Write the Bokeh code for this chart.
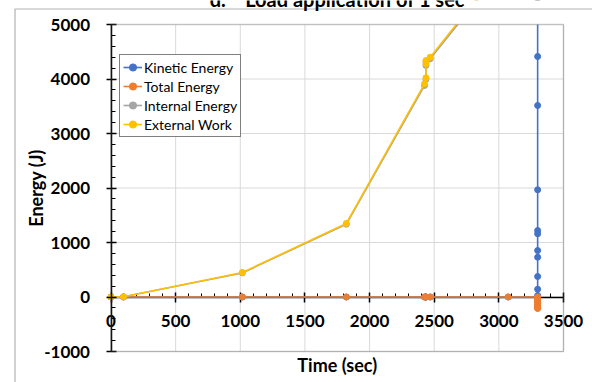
from bokeh.plotting import figure
from bokeh.models import (Label, Legend, LegendItem, SingleIntervalTicker, NumeralTickFormatter,
                          BoxAnnotation, Range1d)
from bokeh.embed import file_html
from bokeh.resources import INLINE

# ---------------- data ----------------
title_text = "d.\u00a0\u00a0\u00a0\u00a0Load application of 1 sec"
x_title = "Time (sec)"
y_title = "Energy (J)"

time_s = [0, 97, 1016, 1820, 2425, 2436, 2436, 2436, 2469, 3072,
          3300, 3300, 3300, 3300, 3300, 3300, 3300, 3300, 3300, 3300, 3300, 3300]
kinetic = [0, 0, 0, 0, 0, 0, 0, 0, 0, 0,
           0, 27, 143, 376, 730, 853, 1160, 1220, 1967, 3514, 4413, 6200]
total = [0, 0, 0, 0, 0, 0, 0, 0, 0, 0,
         0, -20, -45, -70, -95, -120, -140, -160, -180, -195, -205, -210]
internal = [0, 3, 442, 1335, 3880, 3995, 4250, 4310, 4370, 6150,
            6500, 6480, 6460, 6420, 6380, 6300, 6200, 6150, 5900, 5600, 5400, 5300]
external = [0, 5, 450, 1350, 3912, 4022, 4279, 4339, 4400, 6200,
            6520, 6520, 6520, 6520, 6520, 6520, 6520, 6520, 6520, 6520, 6520, 6520]

series_names = ["Kinetic Energy", "Total Energy", "Internal Energy", "External Work"]
series_vals = [kinetic, total, internal, external]
series_colors = ["#4472C4", "#ED7D31", "#A5A5A5", "#FFC000"]

x_ticks = [0, 500, 1000, 1500, 2000, 2500, 3000, 3500]
y_ticks = [-1000, 0, 1000, 2000, 3000, 4000, 5000]
x_min, x_max, x_step = 0, 3500, 500
y_min, y_max, y_step = -1000, 5000, 1000

FONT = "Lato"

# ---------------- layout (pixels of the 592x382 canvas) ----------------
W, H = 592, 382
PX_L, PX_R = 110.5, 563.0   # canvas x of x_min / x_max
PY_T, PY_B = 24.0, 351.0    # canvas y of y_max / y_min
xpu = (PX_R - PX_L) / (x_max - x_min)
ypu = (PY_B - PY_T) / (y_max - y_min)
x_start = x_min - PX_L / xpu
x_end = x_max + (W - PX_R) / xpu
y_end = y_max + PY_T / ypu
y_start = y_min - (H - PY_B) / ypu

def x_of(px):
    return x_start + px / xpu

def y_of(py):
    return y_end - py / ypu

# the frame covers the whole canvas; the plot area is drawn inside it
p = figure(width=W, height=H, x_range=Range1d(x_start, x_end), y_range=Range1d(y_start, y_end),
           output_backend="svg", toolbar_location=None, min_border=0,
           background_fill_color="white", border_fill_color="white")
p.outline_line_color = None
p.grid.visible = False

# gridlines of the plot area
p.segment(x0=x_ticks, x1=x_ticks, y0=[y_min] * len(x_ticks), y1=[y_max] * len(x_ticks),
          line_color="#d9d9d9", line_width=1, level="underlay")
p.segment(x0=[x_min] * len(y_ticks), x1=[x_max] * len(y_ticks), y0=y_ticks, y1=y_ticks,
          line_color="#d9d9d9", line_width=1, level="underlay")

# x axis crossing at y = 0 (under the data, as in the original)
xa = p.xaxis[0]
xa.ticker = SingleIntervalTicker(interval=x_step, num_minor_ticks=5)
xa.fixed_location = 0
xa.bounds = (x_min, x_max)
xa.level = "underlay"
xa.axis_line_color = "black"
xa.axis_line_width = 1.5
xa.major_tick_line_color = "black"
xa.major_tick_line_width = 1.5
xa.major_tick_in = 5
xa.major_tick_out = 5
xa.minor_tick_line_color = "black"
xa.minor_tick_line_width = 1
xa.minor_tick_in = 4
xa.minor_tick_out = 0
xa.major_label_text_font = FONT
xa.major_label_text_font_style = "bold"
xa.major_label_text_font_size = "17px"
xa.major_label_text_color = "black"
xa.major_label_standoff = 13

ya = p.yaxis[0]
ya.ticker = SingleIntervalTicker(interval=y_step, num_minor_ticks=5)
ya.formatter = NumeralTickFormatter(format="0")
ya.fixed_location = x_min
ya.bounds = (y_min, y_max)
ya.level = "overlay"
ya.axis_line_color = "black"
ya.axis_line_width = 1.5
ya.major_tick_line_color = "black"
ya.major_tick_line_width = 1.5
ya.major_tick_in = 5
ya.major_tick_out = 5
ya.minor_tick_line_color = "black"
ya.minor_tick_line_width = 1
ya.minor_tick_in = 4
ya.minor_tick_out = 0
ya.major_label_text_font = FONT
ya.major_label_text_font_style = "bold"
ya.major_label_text_font_size = "17px"
ya.major_label_text_color = "black"
ya.major_label_standoff = 16
ya.axis_label = y_title
ya.axis_label_text_font = FONT
ya.axis_label_text_font_style = "bold"
ya.axis_label_text_font_size = "18px"
ya.axis_label_text_color = "black"
ya.axis_label_standoff = -5

# ---------------- series ----------------
items = []
for name, vals, col in zip(series_names, series_vals, series_colors):
    ln = p.line(time_s, vals, line_color=col, line_width=1.6)
    sc = p.scatter(time_s, vals, marker="circle", size=6, fill_color=col, line_color=col)
    items.append(LegendItem(label=name, renderers=[ln, sc]))

# white mask above the plot area, drawn right after the series (same level, later order),
# so that data leaving the top of the plot area is cut at 5000
p.quad(left=[x_of(PX_L + 1)], right=[x_end], bottom=[y_max], top=[y_end],
       fill_color="white", fill_alpha=1, line_color=None)

legend = Legend(items=items, location=(119, H - 137),
                label_text_font=FONT, label_text_font_size="14px", label_text_color="black",
                border_line_color="black", border_line_width=1,
                background_fill_color="white", background_fill_alpha=1,
                padding=3, spacing=1, label_height=18, glyph_height=18, glyph_width=19,
                label_standoff=2, margin=0)
p.add_layout(legend)

# plot-area border
p.add_layout(BoxAnnotation(left=x_min, right=x_max, bottom=y_min, top=y_max,
                           fill_alpha=0, line_color="#595959", line_width=1.5, level="overlay"))

# outer chart-area border (only its top and left edges fall inside the window)
p.add_layout(BoxAnnotation(left=x_of(14.5), right=x_of(W + 40), top=y_of(8.5), bottom=y_of(H + 40),
                           fill_alpha=0, line_color="black", line_width=1.2, level="overlay"))

# ---------------- titles ----------------
p.add_layout(Label(x=(x_min + x_max) / 2, y=y_max, y_offset=26, text=title_text,
                   text_align="center", text_baseline="alphabetic",
                   text_font=FONT, text_font_style="bold", text_font_size="20px",
                   text_color="black", level="overlay"))
p.add_layout(Label(x=(x_min + x_max) / 2, y=y_min, y_offset=-13, text=x_title,
                   text_align="center", text_baseline="middle",
                   text_font=FONT, text_font_style="bold", text_font_size="18px",
                   text_color="black", level="overlay"))

open("out.html", "w").write(file_html(p, INLINE))
